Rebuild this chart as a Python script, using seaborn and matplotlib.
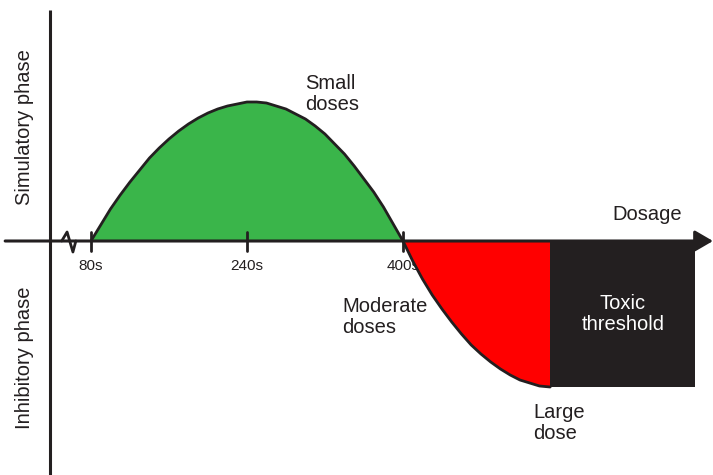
import numpy as np
import pandas as pd
import matplotlib
matplotlib.use("Agg")
import matplotlib.pyplot as plt
import seaborn as sns

# DATA (dose in s, response in arbitrary units, 0 = no effect)

green_dose = [80, 90, 100, 110, 120, 130, 140, 150, 160, 170, 180, 190, 200, 210, 220, 230, 240, 245,
              250, 260, 270, 280, 290, 300, 310, 320, 330, 340, 350, 360, 370, 380, 390, 400]
green_resp = [0, 16, 32, 46, 59, 71, 83, 93, 102, 110, 117, 123, 128, 132, 135, 137, 139, 139,
              139, 138, 135, 132, 127, 122, 115, 107, 97, 87, 75, 62, 49, 34, 17, 0]

red_dose = [400, 410, 420, 430, 440, 450, 460, 470, 480, 490, 500, 510, 520, 530, 540, 551]
red_resp = [0, -20, -38, -54, -68, -81, -93, -104, -113, -121, -128, -134, -139, -142, -145, -146]

toxic_dose = [551, 700]
toxic_resp = [-146, -146]

tick_values = [80, 240, 400]
tick_labels = ["80s", "240s", "400s"]

INK = "#231f20"
GREEN = "#3ab54a"
RED = "#ff0000"

sns.set_theme(style="white")
plt.rcParams["font.family"] = ["Liberation Sans", "DejaVu Sans"]

fig = plt.figure(figsize=(7.13, 4.75), dpi=100)
ax = fig.add_axes([0, 0, 1, 1])
ax.set_xlim(-13.3, 718)
ax.set_ylim(-234, 241)
ax.set_axis_off()

# FILLS

ax.fill_between(green_dose, green_resp, 0, color=GREEN, lw=0, zorder=2)
ax.fill_between(red_dose, red_resp, 0, color=RED, lw=0, zorder=2)
ax.fill_between(toxic_dose, toxic_resp, 0, color=INK, lw=0, zorder=2)

# CURVE

curve = pd.DataFrame({
    "dose": green_dose + red_dose[1:],
    "resp": green_resp + red_resp[1:]
})
sns.lineplot(data=curve, x="dose", y="resp", color=INK, lw=2,
             estimator=None, sort=False, ax=ax, zorder=4)

# AXES

ax.plot([38, 38], [231, -234], color=INK, lw=2.2, zorder=5, solid_capstyle="butt")
ax.annotate("", xy=(718, 0), xytext=(-8, 0), annotation_clip=False, zorder=5,
            arrowprops=dict(arrowstyle="-|>,head_length=0.55,head_width=0.32",
                            mutation_scale=20, lw=2.2, color=INK, shrinkA=0, shrinkB=0))

# axis break
ax.plot([50, 55.5, 61.5, 64.5], [0, 9, -11, 0], color=INK, lw=2, zorder=5)

# ticks
for t, lab in zip(tick_values, tick_labels):
    ax.plot([t, t], [9, -10], color=INK, lw=2, zorder=5)
    ax.text(t, -25, lab, ha="center", va="center", fontsize=11, color=INK, zorder=1)

# LABELS

ax.text(25 / 0.975 - 13.3, 114, "Simulatory phase", rotation=90, ha="center", va="center",
        fontsize=14.5, color=INK)
ax.text(25 / 0.975 - 13.3, -117, "Inhibitory phase", rotation=90, ha="center", va="center",
        fontsize=14.5, color=INK)

ax.text(300, 147, "Small\ndoses", ha="left", va="center", fontsize=14.5, color=INK, linespacing=1.1)
ax.text(338, -76, "Moderate\ndoses", ha="left", va="center", fontsize=14.5, color=INK, linespacing=1.1)
ax.text(534, -182, "Large\ndose", ha="left", va="center", fontsize=14.5, color=INK, linespacing=1.1)
ax.text(615, 27, "Dosage", ha="left", va="center", fontsize=14.5, color=INK)
ax.text(625.5, -73, "Toxic\nthreshold", ha="center", va="center", fontsize=14.5,
        color="white", linespacing=1.1, zorder=6)

plt.savefig("out.png", dpi=100)
